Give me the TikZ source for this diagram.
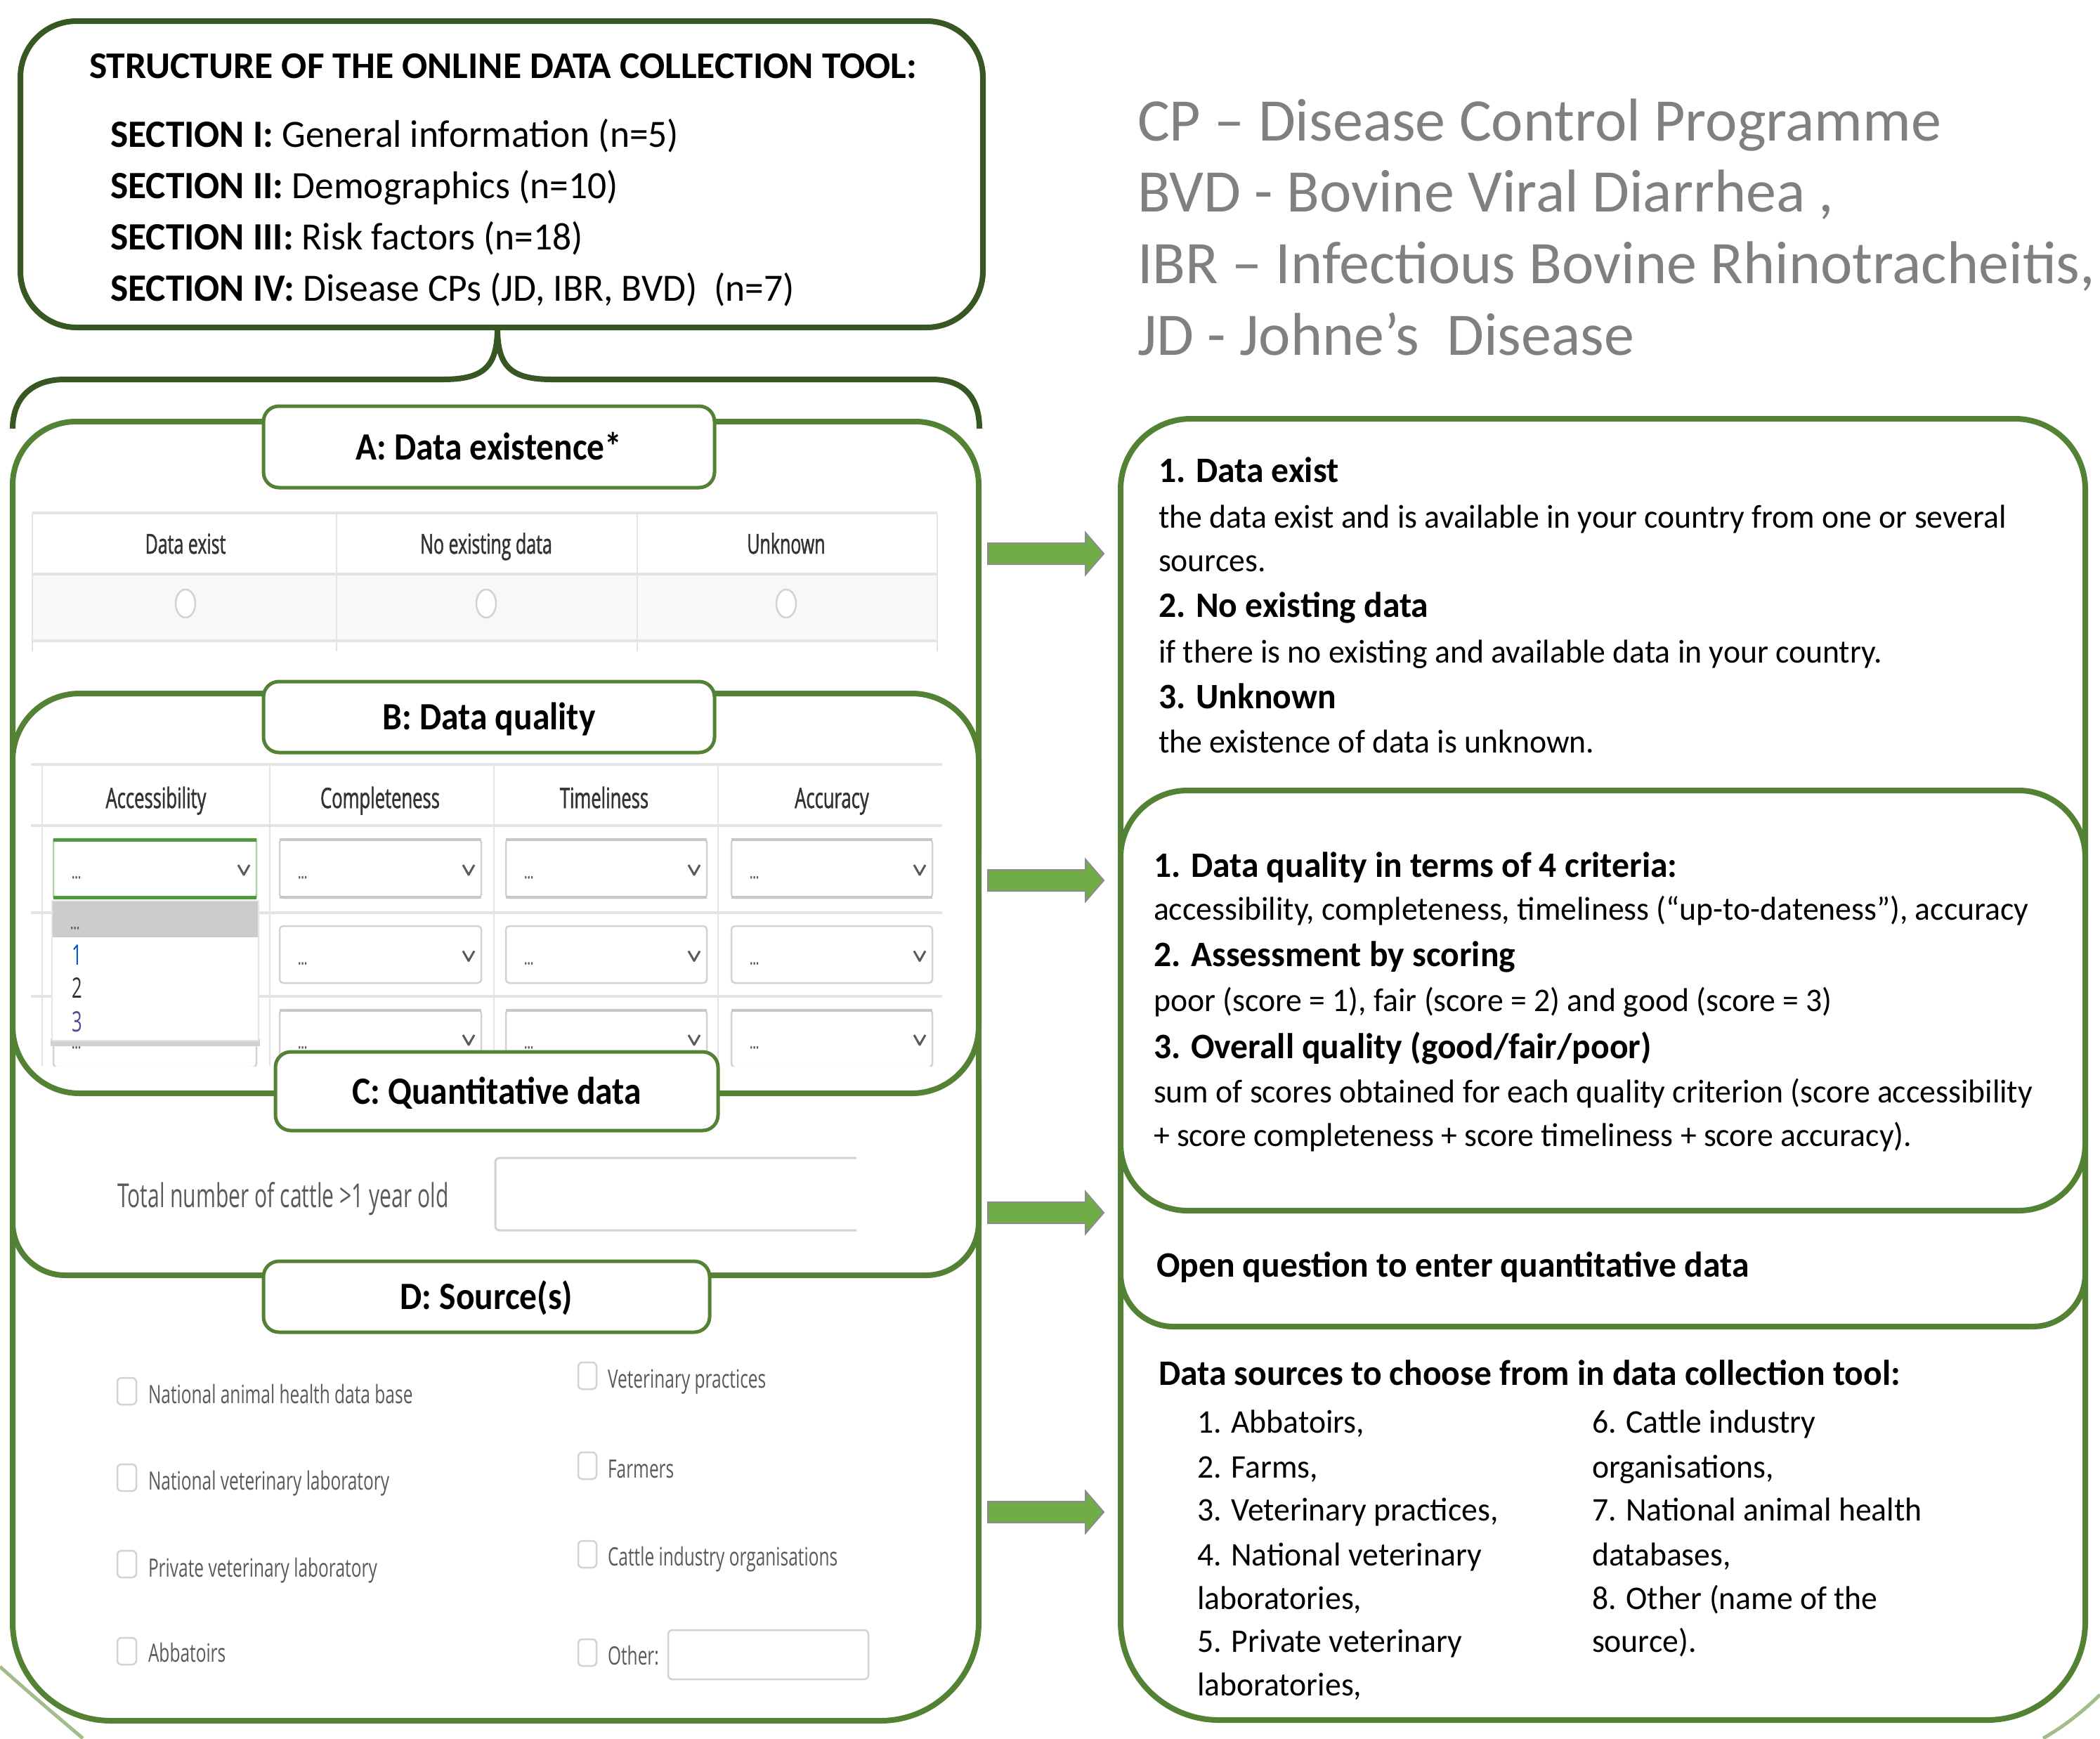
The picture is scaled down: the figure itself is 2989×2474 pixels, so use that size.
\documentclass[tikz,border=0pt]{standalone}
\usepackage{fontspec}
\setmainfont{Carlito}[FakeStretch=0.972]
\newfontfamily\plainfont{Carlito}
\newfontfamily\lblfont[FakeStretch=0.9]{Carlito}
\newfontfamily\webfont[FakeStretch=0.64]{Open Sans}
\newfontfamily\webwide[FakeStretch=0.68]{Open Sans}
\newfontfamily\webbold[FakeStretch=0.64,FakeBold=1.2]{Open Sans}
\definecolor{dkgreen}{HTML}{385723}
\definecolor{mdgreen}{HTML}{548235}
\definecolor{agreen}{HTML}{70AD47}
\definecolor{olivec}{HTML}{A3BC8C}
\definecolor{leggray}{HTML}{808080}
\definecolor{webline}{HTML}{E4E4E4}
\definecolor{webfill}{HTML}{F8F8F8}
\definecolor{webtext}{HTML}{333333}
\definecolor{webgray}{HTML}{5A5A5A}
\definecolor{boxgray}{HTML}{D2D2D2}
\definecolor{focusg}{HTML}{4E9A3C}
\newcommand\fsz[1]{\fontsize{#1}{#1}\selectfont}
\newcommand\greenarrow[1]{%
  \draw[arrowst] (1406,{#1-15}) -- (1545,{#1-15}) -- (1545,{#1-30}) -- (1571,#1) -- (1545,{#1+30}) -- (1545,{#1+15}) -- (1406,{#1+15}) -- cycle;}
\begin{document}
\begin{tikzpicture}[x=1pt,y=-1pt,
  every node/.style={inner sep=0pt, outer sep=0pt},
  cont/.style={draw=mdgreen, line width=8pt, fill=white},
  lbox/.style={draw=mdgreen, line width=5pt, fill=white, rounded corners=22pt, font=\lblfont\fsz{55}\bfseries, text height=36pt, text depth=0pt},
  tl/.style={anchor=base west},
  sec/.style={anchor=base west, font=\fsz{55}},
  leg/.style={anchor=base west, font=\plainfont\fsz{86}, text=leggray},
  rb/.style={anchor=base west, font=\fsz{51}\bfseries},
  rr/.style={anchor=base west, font=\fsz{47}},
  webh/.style={anchor=base, font=\webbold\fsz{39}, text=webtext},
  webhb/.style={anchor=base, font=\webbold\fsz{40}, text=webtext},
  webl/.style={anchor=base west, font=\webwide\fsz{36}, text=webgray},
  dots/.style={anchor=base west, font=\webbold\fsz{26}, text=webgray},
  wl/.style={draw=webline, line width=4pt},
  wv/.style={draw=webline, line width=2pt},
  chev/.style={draw=webgray, line width=3pt, line join=round},
  ddbox/.style={draw=boxgray, line width=2.5pt, fill=white, rounded corners=5pt},
  cbox/.style={draw=boxgray, line width=2.5pt, fill=white, rounded corners=6pt},
  arrowst/.style={fill=agreen, draw=black!45, line width=2pt, line join=miter}
]
\useasboundingbox (0,0) rectangle (2989,2474);

% ---------- top box ----------
\node[draw=dkgreen, line width=8pt, fill=white, rounded corners=80pt,
      minimum width=1370pt, minimum height=436pt] (topbox) at (714,248) {};
\node[tl, font=\plainfont\fsz{53.6}\bfseries] (title) at (127,111) {STRUCTURE OF THE ONLINE DATA COLLECTION TOOL:};
\node[sec] (s1) at (157,209) {\textbf{SECTION I:} General information (n=5)};
\node[sec] (s2) at (157,282) {\textbf{SECTION II:} Demographics (n=10)};
\node[sec] (s3) at (157,355) {\textbf{SECTION III:} Risk factors (n=18)};
\node[sec] (s4) at (157,428) {\textbf{SECTION IV:} Disease CPs (JD, IBR, BVD)~ (n=7)};

% brace
\coordinate (bt) at ([xshift=-6pt]topbox.south);
\draw[dkgreen, line width=8pt] (bt) .. controls +(0,55) and +(60,0) .. (630,540) -- (92,540) .. controls +(-48,0) and +(0,-42) .. (18,610);
\draw[dkgreen, line width=8pt] (bt) .. controls +(0,55) and +(-60,0) .. (786,540) -- (1326,540) .. controls +(48,0) and +(0,-42) .. (1394,610);

% ---------- left containers ----------
\node[cont, rounded corners=140pt, minimum width=1375pt, minimum height=1049pt] (contD) at (705.5,1924.5) {};
\node[cont, rounded corners=75pt, minimum width=1375pt, minimum height=615pt] (contC) at (705.5,1507.5) {};
\node[cont, rounded corners=90pt, minimum width=1375pt, minimum height=700pt] (contA) at (705.5,950) {};
\node[cont, rounded corners=95pt, minimum width=1375pt, minimum height=569pt] (contB) at (705.5,1271.5) {};

% ---------- web table A ----------
\fill[webfill] (46,817) rectangle (1334,912);
\draw[wl] (46,730) -- (1334,730);
\draw[wl] (46,817) -- (1334,817);
\draw[wl] (46,912) -- (1334,912);
\foreach \xv in {46,479,907,1334} { \draw[wv] (\xv,730) -- (\xv,927); }
\node[webh] (hA1) at (264,788) {Data exist};
\node[webh] (hA2) at (692,788) {No existing data};
\node[webh] (hA3) at (1119,788) {Unknown};
\foreach \xv in {264,692,1119} { \draw[draw=boxgray, line width=2.5pt, fill=white] (\xv,859) ellipse [x radius=14, y radius=20]; }

% ---------- web table B ----------
\begin{scope}
\clip (22,1080) rectangle (1390,1517);
\draw[wl] (44,1088) -- (1341,1088);
\draw[wl] (44,1175) -- (1341,1175);
\draw[wl] (44,1299) -- (1341,1299);
\draw[wl] (44,1418) -- (1341,1418);
\foreach \xv in {60,384,703,1022} { \draw[wv] (\xv,1088) -- (\xv,1517); }
\foreach \xl/\xr in {76/365, 398/685, 720/1006, 1041/1327} {
  \foreach \yt/\yb in {1194/1278, 1318/1399, 1437/1519} {
    \pgfmathsetmacro{\yc}{(\yt+\yb)/2}
    \draw[ddbox] (\xl,\yt) rectangle (\xr,\yb);
    \node[dots] (dd\xl\yt) at ({\xl+26},{\yc+14}) {...};
    \draw[chev] ({\xr-26},{\yc-5}) -- ({\xr-18},{\yc+9}) -- ({\xr-10},{\yc-5});
  }
}
\foreach \xl/\xr in {76/365, 398/685, 720/1006, 1041/1327} {
  \draw[draw=black!22, line width=4pt] (\xl,1195) -- (\xr,1195);
  \draw[draw=black!22, line width=4pt] (\xl,1277) -- (\xr,1277);
  \draw[draw=black!22, line width=4pt] (\xl,1438) -- (\xr,1438);
}
% focused box
\draw[draw=focusg!45, line width=2.5pt] (76,1194) -- (76,1278) (365,1194) -- (365,1278);
\draw[draw=focusg, line width=5pt] (76,1195) -- (365,1195);
\draw[draw=focusg, line width=5pt] (76,1277) -- (365,1277);
% dropdown menu
\fill[black!18] (72,1478) rectangle (370,1489);
\fill[white] (74,1282) rectangle (368,1481);
\fill[black!20] (74,1282) rectangle (368,1334);
\draw[draw=black!10, line width=1.5pt] (74,1282) rectangle (368,1481);
\node[dots] (mdots) at (100,1322) {...};
\node[anchor=base west, font=\webfont\fsz{40}, text=blue!60!cyan!80!black] (m1) at (102,1373) {1};
\node[anchor=base west, font=\webfont\fsz{40}, text=webtext] (m2) at (102,1420) {2};
\node[anchor=base west, font=\webfont\fsz{40}, text=blue!40!black!70] (m3) at (102,1468) {3};
\end{scope}
\node[webhb] (hB1) at (222,1150) {Accessibility};
\node[webhb] (hB2) at (541,1150) {Completeness};
\node[webhb] (hB3) at (860,1150) {Timeliness};
\node[webhb] (hB4) at (1184,1150) {Accuracy};

% ---------- C contents ----------
\node[anchor=base west, font=\webfont\fsz{47}, text=webgray] (cattle) at (167,1718) {Total number of cattle >1 year old};
\draw[draw=boxgray, line width=3pt, rounded corners=6pt] (1219,1648) -- (705,1648) -- (705,1751) -- (1219,1751);

% ---------- D contents ----------
\foreach \yc in {1980,2103,2226,2350} { \draw[cbox] (167,{\yc-19}) rectangle (194,{\yc+19}); }
\foreach \yc in {1958,2086,2212,2352} { \draw[cbox] (823,{\yc-19}) rectangle (849,{\yc+19}); }
\node[webl] (d1) at (211,1997) {National animal health data base};
\node[webl] (d2) at (211,2120) {National veterinary laboratory};
\node[webl] (d3) at (211,2244) {Private veterinary laboratory};
\node[webl] (d4) at (211,2365) {Abbatoirs};
\node[webl] (d5) at (865,1975) {Veterinary practices};
\node[webl] (d6) at (865,2103) {Farmers};
\node[webl] (d7) at (865,2228) {Cattle industry organisations};
\node[webl] (d8) at (865,2369) {Other:};
\draw[cbox] (951,2320) rectangle (1236,2390);

% ---------- label boxes ----------
\node[lbox, minimum width=642pt, minimum height=116pt] (labA) at (696,636) {A: Data existence*};
\node[lbox, minimum width=642pt, minimum height=101pt] (labB) at (696,1020.5) {B: Data quality};
\node[lbox, minimum width=630pt, minimum height=112pt] (labC) at (707,1553) {C: Quantitative data};
\node[lbox, minimum width=635pt, minimum height=101pt] (labD) at (692.5,1845.5) {D: Source(s)};

% ---------- legend ----------
\node[leg] (g1) at (1619,200) {CP – Disease Control Programme};
\node[leg] (g2) at (1619,301) {BVD - Bovine Viral Diarrhea ,};
\node[leg] (g3) at (1619,403) {IBR – Infectious Bovine Rhinotracheitis,};
\node[leg] (g4) at (1619,505) {JD - Johne’s~ Disease};

% ---------- right boxes ----------
\node[cont, rounded corners=140pt, minimum width=1373pt, minimum height=848pt] (R4) at (2281.5,2024) {};
\node[cont, rounded corners=75pt, minimum width=1373pt, minimum height=388pt] (R3) at (2281.5,1694) {};
\node[cont, rounded corners=100pt, minimum width=1373pt, minimum height=804pt] (R1) at (2281.5,998) {};
\node[cont, rounded corners=95pt, minimum width=1373pt, minimum height=598pt] (R2) at (2281.5,1424) {};

\node[rb] (a1) at (1649,686) {1. Data exist};
\node[rr] (a2) at (1649,751) {the data exist and is available in your country from one or several};
\node[rr] (a3) at (1649,813) {sources.};
\node[rb] (a4) at (1649,878) {2. No existing data};
\node[rr] (a5) at (1649,943) {if there is no existing and available data in your country.};
\node[rb] (a6) at (1649,1008) {3. Unknown};
\node[rr] (a7) at (1649,1071) {the existence of data is unknown.};

\node[rb] (q1) at (1642,1248) {1. Data quality in terms of 4 criteria:};
\node[rr] (q2) at (1642,1309) {accessibility, completeness, timeliness (“up-to-dateness”), accuracy};
\node[rb] (q3) at (1642,1375) {2. Assessment by scoring};
\node[rr] (q4) at (1642,1439) {poor (score = 1), fair (score = 2) and good (score = 3)};
\node[rb] (q5) at (1642,1506) {3. Overall quality (good/fair/poor)};
\node[rr] (q6) at (1642,1569) {sum of scores obtained for each quality criterion (score accessibility};
\node[rr] (q7) at (1642,1631) {+ score completeness + score timeliness + score accuracy).};

\node[rb] (o1) at (1646,1817) {Open question to enter quantitative data};

\node[rb] (z0) at (1649,1971) {Data sources to choose from in data collection tool:};
\node[rr] (z1) at (1704,2039) {1. Abbatoirs,};
\node[rr] (z2) at (1704,2103) {2. Farms,};
\node[rr] (z3) at (1704,2164) {3. Veterinary practices,};
\node[rr] (z4) at (1704,2228) {4. National veterinary};
\node[rr] (z5) at (1704,2290) {laboratories,};
\node[rr] (z6) at (1704,2351) {5. Private veterinary};
\node[rr] (z7) at (1704,2413) {laboratories,};
\node[rr] (y1) at (2266,2039) {6. Cattle industry};
\node[rr] (y2) at (2266,2103) {organisations,};
\node[rr] (y3) at (2266,2164) {7. National animal health};
\node[rr] (y4) at (2266,2228) {databases,};
\node[rr] (y5) at (2266,2290) {8. Other (name of the};
\node[rr] (y6) at (2266,2351) {source).};

% ---------- block arrows ----------
\greenarrow{788}
\greenarrow{1253}
\greenarrow{1726}
\greenarrow{2152}

% ---------- corner arcs ----------
\draw[olivec, line width=5pt] (0,2372) .. controls (40,2408) and (80,2442) .. (118,2474);
\draw[olivec, line width=5pt] (2989,2412) .. controls (2962,2438) and (2936,2458) .. (2908,2474);
\end{tikzpicture}
\end{document}
